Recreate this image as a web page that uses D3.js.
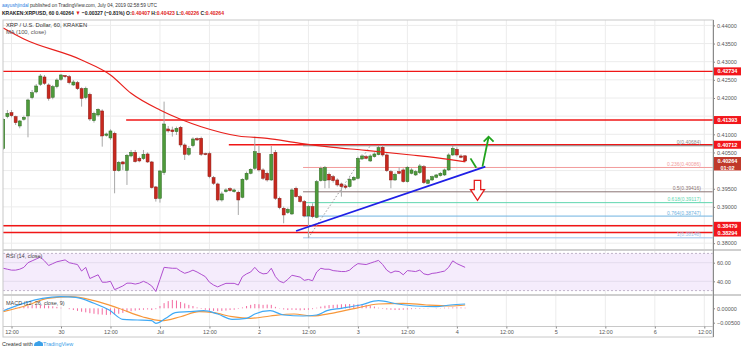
<!DOCTYPE html>
<html><head><meta charset="utf-8">
<script src="https://cdn.jsdelivr.net/npm/d3@7"></script>
<style>body{margin:0;background:#fff}svg{display:block;font-family:"Liberation Sans",Arial,sans-serif}</style>
</head><body><svg id="c" width="741" height="351"></svg>
<script>
// ---------- DATA ----------
const firstCandleUTC = Date.UTC(2019, 5, 29, 10); // hourly candles
const opens  = [.40614,.41486,.41597,.41486,.41229,.41413,.41505,.42010,.42166,.42377,.42579,.42359,.42019,.42313,.42515,.42616,.42588,.42359,.42423,.42258,.42010,.42101,.41376,.41532,.41643,.40972,.40899,.41027,.39999,.40238,.40008,.40403,.40504,.40339,.40330,.40458,.40238,.39550,.39237,.39944,.41147,.41119,.41073,.41193,.40706,.40449,.40688,.40881,.40890,.40467,.40467,.39807,.39632,.39191,.39421,.39504,.39421,.39403,.39265,.39761,.39926,.40064,.40477,.40018,.39926,.39742,.40504,.39237,.38962,.38843,.38806,.39513,.39283,.39146,.38751,.39008,.38714,.39724,.39724,.39898,.39834,.39742,.39632,.39577,.39559,.39742,.39788,.40321,.40385,.40266,.40385,.40440,.40642,.40431,.39972,.39742,.39972,.40018,.39696,.39926,.39880,.39944,.40109,.39650,.39742,.39816,.39862,.39880,.40018,.40431,.40587,.40403,.40407];
const highs  = [.41440,.41670,.41670,.41514,.41395,.41514,.41982,.42221,.42386,.42661,.42634,.42404,.42359,.42542,.42661,.42634,.42634,.42496,.42469,.42294,.42313,.42147,.41624,.41716,.41688,.41046,.41138,.41073,.40266,.40266,.40458,.40568,.40568,.40385,.40568,.40504,.40266,.39577,.40018,.41900,.41229,.41211,.41211,.41229,.40752,.40679,.40917,.40917,.40936,.40495,.40523,.39852,.39669,.39421,.39513,.39540,.39504,.39448,.39788,.39972,.40064,.40936,.40679,.40064,.39972,.40679,.40568,.39283,.39008,.38980,.39513,.39559,.39329,.39191,.39054,.39100,.39742,.40109,.40128,.39944,.39880,.39788,.39669,.39623,.39816,.39852,.40385,.40449,.40431,.40449,.40504,.40679,.40688,.40477,.40018,.39944,.40091,.40064,.40128,.40064,.40018,.40183,.40155,.39770,.39862,.39907,.39963,.40054,.40477,.40679,.40642,.40449,.40423];
const lows   = [.40568,.41441,.41468,.41257,.41165,.41376,.40917,.41964,.42129,.42331,.42359,.41927,.41964,.42267,.42469,.42542,.42377,.42331,.42221,.41762,.41964,.41367,.41321,.41486,.40660,.40936,.40844,.39375,.39972,.40018,.39605,.40366,.40220,.40229,.40293,.40210,.39504,.39146,.39118,.39880,.41046,.40936,.40982,.40642,.40293,.40403,.40642,.40816,.40403,.40422,.39788,.39605,.39146,.39146,.39393,.39421,.39393,.38778,.39237,.39724,.39898,.40018,.39972,.39742,.39696,.39715,.39191,.38934,.38549,.38806,.38778,.39256,.39118,.38714,.38148,.38687,.38687,.39696,.39513,.39513,.39669,.39559,.39283,.39485,.39531,.39715,.39761,.40293,.40311,.40238,.40357,.40422,.40385,.39963,.39513,.39715,.39898,.39669,.39669,.39898,.39852,.39907,.39632,.39623,.39715,.39788,.39834,.39852,.39990,.40403,.40385,.40339,.40226];
const closes = [.41413,.41578,.41514,.41321,.41367,.41468,.41945,.42147,.42331,.42606,.42404,.41991,.42313,.42496,.42634,.42588,.42423,.42441,.42258,.41991,.42267,.41422,.41578,.41688,.40954,.41009,.41092,.39999,.40229,.40183,.40422,.40504,.40247,.40266,.40449,.40238,.39531,.39228,.39990,.41284,.41092,.41073,.41165,.40706,.40449,.40614,.40871,.40844,.40449,.40449,.39834,.39650,.39191,.39357,.39467,.39448,.39467,.39191,.39761,.39926,.40036,.40523,.40018,.39788,.39742,.40449,.39237,.38980,.38778,.38934,.39467,.39283,.39146,.38751,.39008,.38732,.39696,.40064,.40082,.39742,.39724,.39605,.39559,.39540,.39761,.39816,.40339,.40403,.40339,.40403,.40458,.40633,.40431,.39999,.39742,.39898,.39926,.39696,.40091,.40018,.39972,.40128,.39669,.39742,.39834,.39880,.39926,.40018,.40431,.40614,.40431,.40366,.40264];

const maIdx  = [0, 5, 19, 26, 31, 38, 43, 48, 57, 64, 72, 80, 87, 99, 108, 112];
const maVals = [.43928,.43625,.43047,.42634,.42129,.41669,.41413,.41209,.40953,.40890,.40752,.40642,.40567,.40430,.40311,.40245];

const rsiVals = [54,53,52,52,53,55,60,62,64,66,62,57,59,61,62,63,60,59,58,51,55,43,45,47,39,39,40,31,33,35,38,38,37,38,40,38,35,29,42,55,54.5,54,54,51,48.6,50,52,50,47.5,45,39,36,34,36,37.8,37.8,37.8,36,45,48,50,55,50,48,48.5,54,45,40,38.5,42,46.5,45.5,44.5,41,42,40.6,50,54,53,53,51.5,51,50.5,50.5,52,56,59,58.5,58,59.5,61,62.5,58,52,49,51,50.5,47,51.5,51,50.5,52,48,47,48.5,49,50,51,55,62,59,57,55];

const macdIdx  = [0, 9.5, 14, 17.6, 22, 25.7, 29, 32.5, 36, 37, 39.4, 41.7, 45, 48.6, 52, 55.5, 59, 61, 64.7, 68, 72.7, 76, 78.5, 82, 86.6, 91, 95.7, 100, 105, 108.4, 112];
const macdVals = [-.00083,.00347,.00403,.00382,.00174,-.00059,-.00382,-.00406,-.0043,-.00521,-.00347,-.00153,-.00118,-.00083,-.00198,-.00382,-.00347,-.00198,-.00083,-.00233,-.00267,-.00233,-.00083,0,.00115,.00264,.00149,.0008,.00056,.00115,.00149];
const sigIdx  = [0, 6, 10.7, 16.4, 22, 28, 33.7, 38.3, 43, 47.5, 51, 55.5, 60, 64.7, 70.5, 75, 79.6, 85.4, 91, 97, 102.6, 108.4, 112];
const sigVals = [-.00118,.00115,.00347,.00403,.00264,0,-.00292,-.0043,-.00292,-.00118,-.00153,-.00292,-.00347,-.00267,-.00198,-.00267,-.00174,0,.00149,.00174,.00115,.0008,.00115];
const histVals = [-.0003,-.0002,0,.0002,.0004,.0006,.0008,.001,.0011,.0012,.0011,.0009,.0007,.0005,.0002,0,-.0003,-.0006,-.0009,-.0012,-.0014,-.0017,-.0019,-.0021,-.0022,-.0023,-.0022,-.0021,-.0019,-.0016,-.0013,-.001,-.0008,-.0006,-.0005,-.0004,-.0006,-.0003,.0008,.0018,.0025,.0029,.0027,.0022,.0017,.0012,.0008,.0003,-.0002,-.0005,-.0008,-.0009,-.001,-.0009,-.0008,-.0006,-.0005,-.0002,.0003,.0008,.0012,.0015,.0014,.0012,.0013,.0012,.0005,-.0001,-.0004,-.0006,-.0005,-.0006,-.0007,-.0006,-.0005,-.0003,.0002,.0006,.0009,.0011,.0012,.0013,.0014,.0014,.0015,.0014,.0014,.0013,.0012,.001,.0006,.0002,-.0002,-.0004,-.0005,-.0006,-.0006,-.0005,-.0004,-.0003,-.0002,-.0002,-.0001,-.0001,0,.0001,.0001,.0002,.0002,.0003,.0003,.0003,.0002];

const priceTicks = [0.44,0.435,0.43,0.425,0.42,0.415,0.41,0.405,0.40,0.395,0.39,0.385,0.38];
const keyLevels = [0.42734, 0.41393, 0.40712, 0.38479, 0.38294];
const keyLevelStartIdx = [-3, 29.8, 54.7, -3, -3];
const fibRatios = [0, 0.236, 0.5, 0.618, 0.764, 1];
const fibPrices = [0.40684, 0.40086, 0.39416, 0.39117, 0.38747, 0.38148];
const fibColors = ["#8c8c8c","#f29c9c","#8a7474","#5fd6ae","#6fb2e0","#9cc4ec"];
const fibStartIdx = 72.7;
const fibDiagIdx = [74, 89];
const fibDiagVals = [0.38148, 0.40684];
const trendIdx = [71, 116.9];
const trendVals = [0.38336, 0.40107];
const rsiTicks = [60, 40];
const macdTicks = [0, -0.005];
const timeTickLabels = ["12:00","30","12:00","Jul","12:00","2","12:00","3","12:00","4","12:00","5","12:00","6","12:00"];
const lastPrice = 0.40264;

// ---------- LAYOUT ----------
const svg = d3.select("#c");
const L = 3, R = 713;
const P = {top: 20, bot: 249}, RS = {top: 251, bot: 294}, MC = {top: 296, bot: 326};
const H = 3600e3;
const x = d3.scaleTime()
  .domain([new Date(Date.UTC(2019,5,29,12)), new Date(Date.UTC(2019,6,6,12))])
  .range([11.5, 704.3]);
const xi = i => x(new Date(firstCandleUTC + i * H));
const y = d3.scaleLinear().domain([0.38, 0.44]).range([243.2, 25.4]);
const yr = d3.scaleLinear().domain([40, 60]).range([281.3, 262.7]);
const ym = d3.scaleLinear().domain([-0.005, 0]).range([322.7, 308.3]);
const tickDates = timeTickLabels.map((_, k) => new Date(Date.UTC(2019,5,29,12) + k * 12 * H));

const defs = svg.append("defs");
[["cp",P],["cr",RS],["cm",MC]].forEach(([id,p]) => defs.append("clipPath").attr("id",id)
  .append("rect").attr("x",L).attr("y",p.top).attr("width",R-L).attr("height",p.bot-p.top));

const grid = "#ececec";
[P,RS,MC].forEach(p => svg.append("g").selectAll("line").data(tickDates).join("line")
  .attr("x1",d=>x(d)).attr("x2",d=>x(d)).attr("y1",p.top).attr("y2",p.bot)
  .attr("stroke",grid).attr("stroke-width",1));
svg.append("g").selectAll("line").data(priceTicks).join("line")
  .attr("x1",L).attr("x2",R).attr("y1",d=>y(d)).attr("y2",d=>y(d)).attr("stroke",grid);

// ---------- PRICE PANE ----------
const gp = svg.append("g").attr("clip-path","url(#cp)");
gp.selectAll("line.kl").data(keyLevels).join("line").attr("class","kl")
  .attr("x1",(d,i)=>xi(keyLevelStartIdx[i])).attr("x2",R)
  .attr("y1",d=>y(d)).attr("y2",d=>y(d)).attr("stroke","#f01616").attr("stroke-width",1.4);
gp.selectAll("line.fb").data(fibPrices).join("line").attr("class","fb")
  .attr("x1",xi(fibStartIdx)).attr("x2",R).attr("y1",d=>y(d)).attr("y2",d=>y(d))
  .attr("stroke",(d,i)=>fibColors[i]).attr("stroke-width",1);
gp.selectAll("text.fb").data(fibPrices).join("text").attr("class","fb")
  .attr("x",701).attr("y",d=>y(d)-1.5).attr("text-anchor","end")
  .attr("font-size",5).attr("fill",(d,i)=>fibColors[i])
  .text((d,i)=>`${fibRatios[i]}(${d.toFixed(5)})`);
gp.append("line").attr("x1",xi(fibDiagIdx[0])).attr("y1",y(fibDiagVals[0]))
  .attr("x2",xi(fibDiagIdx[1])).attr("y2",y(fibDiagVals[1]))
  .attr("stroke","#9a9a9a").attr("stroke-width",1).attr("stroke-dasharray","1.5,2");

const cg = gp.append("g");
const idx = d3.range(opens.length);
cg.selectAll("line").data(idx).join("line")
  .attr("x1",i=>xi(i)).attr("x2",i=>xi(i)).attr("y1",i=>y(highs[i])).attr("y2",i=>y(lows[i]))
  .attr("stroke","#a8a8a8").attr("stroke-width",1);
cg.selectAll("rect").data(idx).join("rect")
  .attr("x",i=>xi(i)-1.5).attr("width",3)
  .attr("y",i=>y(Math.max(opens[i],closes[i])))
  .attr("height",i=>Math.max(1,Math.abs(y(opens[i])-y(closes[i]))))
  .attr("fill",i=>closes[i]>=opens[i]?"#4e9a3a":"#c8281e")
  .attr("stroke",i=>closes[i]>=opens[i]?"#2e6b24":"#8a1a14").attr("stroke-width",0.5);

gp.append("path").datum(maIdx.map((k,j)=>[k,maVals[j]]))
  .attr("d",d3.line().x(d=>xi(d[0])).y(d=>y(d[1])).curve(d3.curveMonotoneX))
  .attr("fill","none").attr("stroke","#e8201c").attr("stroke-width",1.2);

gp.append("line").attr("x1",xi(trendIdx[0])).attr("y1",y(trendVals[0]))
  .attr("x2",xi(trendIdx[1])).attr("y2",y(trendVals[1]))
  .attr("stroke","#1f1fe6").attr("stroke-width",1.8);

const g1 = trendIdx[1];
gp.append("path").attr("d",`M${xi(g1-3.6)},${y(0.40337)} L${xi(g1-2.2)},${y(0.40080)}`)
  .attr("stroke","#22a31e").attr("stroke-width",1.8).attr("fill","none");
gp.append("path").attr("d",`M${xi(g1-0.7)},${y(0.40110)} L${xi(g1+0.8)},${y(0.40926)}`)
  .attr("stroke","#22a31e").attr("stroke-width",1.8).attr("fill","none");
gp.append("path").attr("d",`M${xi(g1-0.4)},${y(0.40800)} L${xi(g1+0.8)},${y(0.40935)} L${xi(g1+2.0)},${y(0.40800)}`)
  .attr("stroke","#22a31e").attr("stroke-width",1.8).attr("fill","none");
{
  const cx = xi(g1-1.9), t = y(0.39733), m = y(0.39475), b = y(0.39180);
  gp.append("path").attr("d",`M${cx-3.2},${t} L${cx+3.2},${t} L${cx+3.2},${m} L${cx+7},${m} L${cx},${b} L${cx-7},${m} L${cx-3.2},${m} Z`)
    .attr("fill","#fff").attr("stroke","#e51d1d").attr("stroke-width",1.3);
}

// ---------- RSI PANE ----------
const gr = svg.append("g").attr("clip-path","url(#cr)");
gr.append("rect").attr("x",L).attr("width",R-L).attr("y",yr(70)).attr("height",yr(30)-yr(70)).attr("fill","#f5ecfc");
[70,30].forEach(v=>gr.append("line").attr("x1",L).attr("x2",R).attr("y1",yr(v)).attr("y2",yr(v))
  .attr("stroke","#bfb3c9").attr("stroke-dasharray","2,2"));
rsiTicks.forEach(v=>gr.append("line").attr("x1",L).attr("x2",R).attr("y1",yr(v)).attr("y2",yr(v)).attr("stroke","#e4dced"));
gr.append("path").datum(rsiVals)
  .attr("d",d3.line().x((d,i)=>xi(i)).y(d=>yr(d)))
  .attr("fill","none").attr("stroke","#b04fd0").attr("stroke-width",1);

// ---------- MACD PANE ----------
const gm = svg.append("g").attr("clip-path","url(#cm)");
gm.selectAll("rect").data(histVals).join("rect")
  .attr("x",(d,i)=>xi(i)-0.5).attr("width",1)
  .attr("y",d=>Math.min(ym(d),ym(0))).attr("height",d=>Math.abs(ym(d)-ym(0)))
  .attr("fill","#f36aa0");
gm.append("path").datum(sigIdx.map((k,j)=>[k,sigVals[j]]))
  .attr("d",d3.line().x(d=>xi(d[0])).y(d=>ym(d[1])).curve(d3.curveMonotoneX))
  .attr("fill","none").attr("stroke","#f7973a").attr("stroke-width",1.2);
gm.append("path").datum(macdIdx.map((k,j)=>[k,macdVals[j]]))
  .attr("d",d3.line().x(d=>xi(d[0])).y(d=>ym(d[1])).curve(d3.curveMonotoneX))
  .attr("fill","none").attr("stroke","#3fa9f5").attr("stroke-width",1.2);

// ---------- FRAMES ----------
svg.append("rect").attr("x",L).attr("y",P.top).attr("width",R-L).attr("height",337-P.top)
  .attr("fill","none").attr("stroke","#c8c8c8").attr("stroke-width",1);
[250, 295].forEach(v=>svg.append("line").attr("x1",L).attr("x2",741).attr("y1",v).attr("y2",v)
  .attr("stroke","#cfcfcf").attr("stroke-width",2));
svg.append("line").attr("x1",L).attr("x2",R).attr("y1",326.5).attr("y2",326.5).attr("stroke","#c8c8c8");

// ---------- AXES ----------
const labelled = keyLevels.concat([lastPrice]);
const hidden = v => labelled.some(k => Math.abs(y(k) - y(v)) < 7) || (y(v) > y(lastPrice) && y(v) - y(lastPrice) < 12);
const axTxt = sel => sel.call(g=>g.select(".domain").remove())
  .call(g=>g.selectAll("text").attr("font-size",5.5).attr("fill","#555"))
  .call(g=>g.selectAll("line").attr("stroke","#888"));
svg.append("g").attr("transform",`translate(${R},0)`)
  .call(d3.axisRight(y).tickValues(priceTicks.filter(v=>!hidden(v))).tickFormat(d3.format(".5f")).tickSize(2).tickPadding(2)).call(axTxt);
svg.append("g").attr("transform",`translate(${R},0)`)
  .call(d3.axisRight(yr).tickValues(rsiTicks).tickFormat(d3.format(".2f")).tickSize(2).tickPadding(2)).call(axTxt);
svg.append("g").attr("transform",`translate(${R},0)`)
  .call(d3.axisRight(ym).tickValues(macdTicks).tickFormat(d3.format(".5f")).tickSize(2).tickPadding(2)).call(axTxt);
svg.append("line").attr("x1",R+0.5).attr("x2",R+0.5).attr("y1",P.top).attr("y2",337).attr("stroke","#8a8a8a");
svg.append("g").attr("transform",`translate(0,326.5)`)
  .call(d3.axisBottom(x).tickValues(tickDates).tickFormat((d,k)=>timeTickLabels[k]).tickSize(2).tickPadding(2))
  .call(axTxt);

const lab = (v, fill, txt, dy=0, h=8) => {
  const g = svg.append("g");
  g.append("rect").attr("x",R+1).attr("y",y(v)-4+dy).attr("width",27).attr("height",h).attr("fill",fill);
  g.append("text").attr("x",R+14.5).attr("y",y(v)+2+dy).attr("text-anchor","middle").attr("font-size",5.5)
    .attr("font-weight","bold").attr("fill","#fff").text(txt ?? v.toFixed(5));
};
keyLevels.forEach(v=>lab(v,"#f2161b"));
lab(lastPrice,"#c0392b");
lab(lastPrice,"#c0392b","01:02",7,6.5);

// ---------- TEXTS ----------
function runText(px, py, size, width, parts, bold) {
  const g = svg.append("g");
  let cx = 0;
  parts.forEach(([txt, col]) => {
    const t = g.append("text").attr("x",cx).attr("y",0).attr("font-size",size)
      .attr("font-weight",bold?"bold":"normal").attr("fill",col).attr("xml:space","preserve").style("white-space","pre").text(txt);
    cx += t.node().getComputedTextLength();
  });
  g.attr("transform",`translate(${px},${py}) scale(${width/cx},1)`);
}
runText(2, 7, 6.2, 155, [["aayushjindal","#2a7de1"],[" published on TradingView.com, July 04, 2019 02:58:59 UTC","#333"]], false);
runText(2, 14.5, 6.2, 222, [["KRAKEN:XRPUSD, 60 0.40264 ","#222"],["▼","#e0201a"],[" −0.00327 (−0.81%) O:","#222"],["0.40407","#e0201a"],
  [" H:","#222"],["0.40423","#e0201a"],[" L:","#222"],["0.40226","#e0201a"],[" C:","#222"],["0.40264","#e0201a"]], true);
svg.append("text").attr("x",6).attr("y",27).attr("font-size",5.8).attr("fill","#333").text("XRP / U.S. Dollar, 60, KRAKEN");
svg.append("text").attr("x",6).attr("y",34).attr("font-size",5.8).attr("fill","#555").text("MA (100, close)");
svg.append("text").attr("x",6).attr("y",258).attr("font-size",5.5).attr("fill","#444").text("RSI (14, close)");
svg.append("text").attr("x",6).attr("y",304.5).attr("font-size",5.5).attr("fill","#444").text("MACD (12, 26, close, 9)");
svg.append("text").attr("x",2).attr("y",346).attr("font-size",5.5).attr("fill","#333").text("Created with");
svg.append("path").attr("d","M34,346 q0,-4 3,-4 q2,-2 4,0 q2,0 2,2 l0,2 z").attr("fill","#3aa0e8");
svg.append("text").attr("x",43).attr("y",346).attr("font-size",5.5).attr("fill","#3aa0e8").text("TradingView");
</script></body></html>
